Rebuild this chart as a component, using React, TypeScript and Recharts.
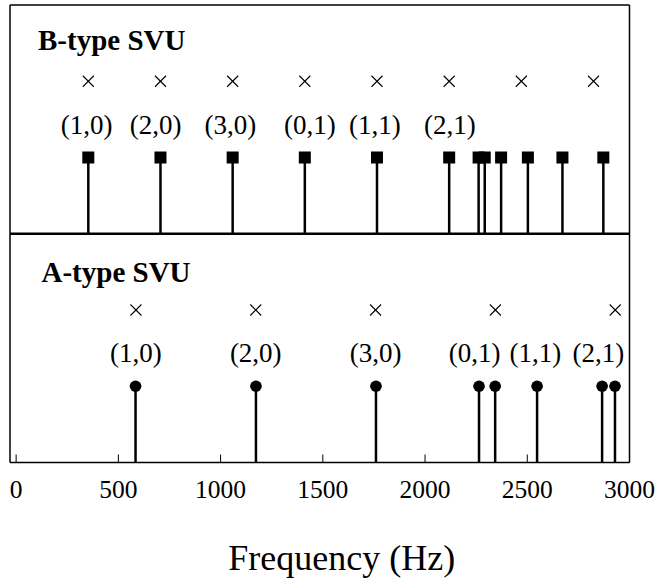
import React from 'react';
import { ComposedChart, XAxis, YAxis, Scatter, ReferenceLine } from 'recharts';

// Frequency axis
const FREQ_DOMAIN = [-30, 3000];
const FREQ_TICKS = [0, 500, 1000, 1500, 2000, 2500, 3000];
const LEVEL_TICKS = [1, 2, 4, 5];

// B-type SVU (upper panel, baseline at level 3)
const B_MODE_FREQS = [353, 706, 1059, 1412, 1765, 2118, 2262, 2292, 2372, 2503, 2672, 2872];
const B_CROSS_FREQS = [353, 706, 1059, 1412, 1765, 2118, 2471, 2824];
const B_LABELS = ['(1,0)', '(2,0)', '(3,0)', '(0,1)', '(1,1)', '(2,1)'];
const B_LABEL_FREQS = [345, 682, 1048, 1437, 1755, 2121];

// A-type SVU (lower panel, baseline at level 0)
const A_MODE_FREQS = [584, 1173, 1760, 2264, 2343, 2548, 2866, 2929];
const A_CROSS_FREQS = [586, 1172, 1758, 2344, 2930];
const A_LABELS = ['(1,0)', '(2,0)', '(3,0)', '(0,1)', '(1,1)', '(2,1)'];
const A_LABEL_FREQS = [586, 1172, 1758, 2243, 2540, 2848];

const B_BASE = 3;
const A_BASE = 0;
const STEM_HEIGHT = 1;
const CROSS_LEVEL = 2;
const LABEL_LEVEL = 1.43;

const SERIF = '"Liberation Serif", "Times New Roman", serif';

const bStems = B_MODE_FREQS.map((f) => ({ f, v: B_BASE + STEM_HEIGHT }));
const bCrosses = B_CROSS_FREQS.map((f) => ({ f, v: B_BASE + CROSS_LEVEL }));
const bLabels = B_LABELS.map((label, i) => ({ f: B_LABEL_FREQS[i], v: B_BASE + LABEL_LEVEL, label }));

const aStems = A_MODE_FREQS.map((f) => ({ f, v: A_BASE + STEM_HEIGHT }));
const aCrosses = A_CROSS_FREQS.map((f) => ({ f, v: A_BASE + CROSS_LEVEL }));
const aLabels = A_LABELS.map((label, i) => ({ f: A_LABEL_FREQS[i], v: A_BASE + LABEL_LEVEL, label }));

const SquareMark = (p: any) => (
  <rect x={p.cx - 6} y={p.cy - 6} width={12} height={12} fill="#000" />
);

const DotMark = (p: any) => <circle cx={p.cx} cy={p.cy} r={5.8} fill="#000" />;

const CrossMark = (p: any) => (
  <g stroke="#000" strokeWidth={1.1}>
    <line x1={p.cx - 5.5} y1={p.cy - 5.5} x2={p.cx + 5.5} y2={p.cy + 5.5} />
    <line x1={p.cx - 5.5} y1={p.cy + 5.5} x2={p.cx + 5.5} y2={p.cy - 5.5} />
  </g>
);

const ModeLabel = (p: any) => (
  <text
    x={p.cx}
    y={p.cy}
    textAnchor="middle"
    dominantBaseline="central"
    fontFamily={SERIF}
    fontSize={27}
    fill="#000"
  >
    {p.payload.label}
  </text>
);

const stem = (f: number, base: number, key: string) => (
  <ReferenceLine
    key={key}
    xAxisId="b"
    yAxisId="l"
    segment={[
      { x: f, y: base },
      { x: f, y: base + STEM_HEIGHT },
    ]}
    stroke="#000"
    strokeWidth={2.5}
    ifOverflow="visible"
  />
);

export default function App() {
  return (
    <div style={{ position: 'absolute', left: 0, top: 0, width: 656, height: 581, background: '#fff' }}>
      <ComposedChart
        width={656}
        height={581}
        margin={{ top: 4, right: 25.5, bottom: 0, left: 9 }}
      >
        <XAxis
          xAxisId="b"
          type="number"
          dataKey="f"
          domain={FREQ_DOMAIN}
          ticks={FREQ_TICKS}
          interval={0}
          allowDataOverflow
          orientation="bottom"
          height={118.5}
          stroke="#000"
          axisLine={{ stroke: '#000', strokeWidth: 1.5 }}
          tickLine={{ stroke: '#000', strokeWidth: 1 }}
          tickSize={-8}
          tickMargin={25}
          tick={{ fill: '#000', fontSize: 25.5, fontFamily: SERIF }}
          label={{
            value: 'Frequency (Hz)',
            position: 'insideBottom',
            offset: 11,
            dx: 22,
            fill: '#000',
            fontSize: 36,
            fontFamily: SERIF,
          }}
        />
        <XAxis
          xAxisId="t"
          type="number"
          dataKey="f"
          domain={FREQ_DOMAIN}
          ticks={FREQ_TICKS}
          interval={0}
          allowDataOverflow
          orientation="top"
          height={1}
          stroke="#000"
          axisLine={{ stroke: '#000', strokeWidth: 1.5 }}
          tickLine={{ stroke: '#000', strokeWidth: 1 }}
          tickSize={-8}
          tick={false}
        />
        <YAxis
          yAxisId="l"
          type="number"
          dataKey="v"
          domain={[0, 6]}
          ticks={LEVEL_TICKS}
          interval={0}
          orientation="left"
          width={1}
          stroke="#000"
          axisLine={{ stroke: '#000', strokeWidth: 1.5 }}
          tickLine={{ stroke: '#000', strokeWidth: 1 }}
          tickSize={-7}
          tick={false}
        />
        <YAxis
          yAxisId="r"
          type="number"
          dataKey="v"
          domain={[0, 6]}
          ticks={LEVEL_TICKS}
          interval={0}
          orientation="right"
          width={1}
          stroke="#000"
          axisLine={{ stroke: '#000', strokeWidth: 1.5 }}
          tickLine={{ stroke: '#000', strokeWidth: 1 }}
          tickSize={-8}
          tick={false}
        />

        {B_MODE_FREQS.map((f, i) => stem(f, B_BASE, `bs${i}`))}
        {A_MODE_FREQS.map((f, i) => stem(f, A_BASE, `as${i}`))}

        <ReferenceLine xAxisId="b" yAxisId="l" y={3} stroke="#000" strokeWidth={2.5} />

        <Scatter xAxisId="b" yAxisId="l" data={bStems} shape={SquareMark} isAnimationActive={false} />
        <Scatter xAxisId="b" yAxisId="l" data={bCrosses} shape={CrossMark} isAnimationActive={false} />
        <Scatter xAxisId="b" yAxisId="l" data={bLabels} shape={ModeLabel} isAnimationActive={false} />

        <Scatter xAxisId="b" yAxisId="l" data={aStems} shape={DotMark} isAnimationActive={false} />
        <Scatter xAxisId="b" yAxisId="l" data={aCrosses} shape={CrossMark} isAnimationActive={false} />
        <Scatter xAxisId="b" yAxisId="l" data={aLabels} shape={ModeLabel} isAnimationActive={false} />
      </ComposedChart>
      <svg
        width={656}
        height={581}
        style={{ position: 'absolute', left: 0, top: 0, pointerEvents: 'none' }}
      >
        <text x={38} y={50} fontFamily={SERIF} fontWeight="bold" fontSize={29} fill="#000">
          B-type SVU
        </text>
        <text x={41.5} y={281.5} fontFamily={SERIF} fontWeight="bold" fontSize={29} fill="#000">
          A-type SVU
        </text>
      </svg>
    </div>
  );
}
